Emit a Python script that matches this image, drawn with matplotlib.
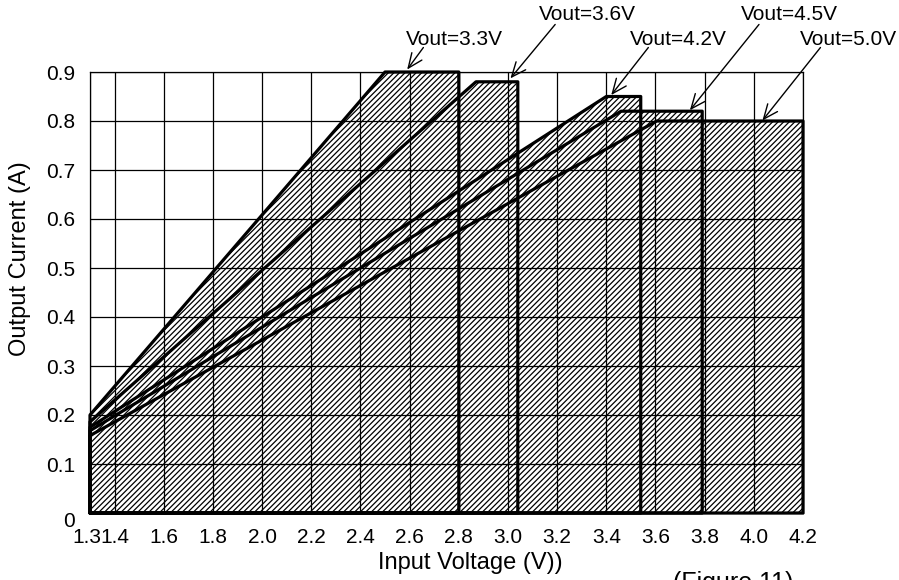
import numpy as np
import matplotlib
matplotlib.use('Agg')
import matplotlib.pyplot as plt
from matplotlib.patches import Polygon

plt.rcParams['font.family'] = ['Liberation Sans', 'DejaVu Sans']
plt.rcParams['hatch.linewidth'] = 0.9

# safe operating area per output voltage
vout_labels = ['Vout=3.3V', 'Vout=3.6V', 'Vout=4.2V', 'Vout=4.5V', 'Vout=5.0V']
vin_min = 1.3
i_at_vin_min = [0.200, 0.186, 0.175, 0.168, 0.158]
vin_knee = [2.50, 2.87, 3.40, 3.46, 3.605]
i_max = [0.90, 0.88, 0.85, 0.82, 0.80]
vin_max = [2.80, 3.04, 3.54, 3.79, 4.20]

# arrow tips on the curves
tip_vin = [2.59, 3.01, 3.42, 3.74, 4.035]
tip_i = [0.905, 0.887, 0.853, 0.822, 0.801]

xticks = [1.3, 1.4, 1.6, 1.8, 2.0, 2.2, 2.4, 2.6, 2.8, 3.0, 3.2, 3.4, 3.6, 3.8, 4.0, 4.2]
xticklabels = ['', '1.4', '1.6', '1.8', '2.0', '2.2', '2.4', '2.6', '2.8', '3.0',
               '3.2', '3.4', '3.6', '3.8', '4.0', '4.2']
yticks = [0, 0.1, 0.2, 0.3, 0.4, 0.5, 0.6, 0.7, 0.8, 0.9]
yticklabels = ['', '0.1', '0.2', '0.3', '0.4', '0.5', '0.6', '0.7', '0.8', '0.9']

fig = plt.figure(figsize=(8.99, 5.80), dpi=100)
ax = fig.add_axes([90/899, 1-513/580, (803-90)/899, (513-72)/580])

for k in range(len(vout_labels)):
    xs = [vin_min, vin_min, vin_knee[k], vin_max[k], vin_max[k]]
    ys = [0, i_at_vin_min[k], i_max[k], i_max[k], 0]
    poly = Polygon(np.column_stack([xs, ys]), closed=True, facecolor='white',
                   edgecolor='black', hatch='//////', linewidth=0, zorder=1)
    ax.add_patch(poly)

for k in range(len(vout_labels)):
    xs = [vin_min, vin_min, vin_knee[k], vin_max[k], vin_max[k], vin_min]
    ys = [0, i_at_vin_min[k], i_max[k], i_max[k], 0, 0]
    ax.plot(xs, ys, color='black', lw=2.3, solid_joinstyle='round',
            solid_capstyle='round', zorder=4, clip_on=False)

ax.set_xlim(1.3, 4.2)
ax.set_ylim(0, 0.9)
ax.set_xticks(xticks)
ax.set_xticklabels(xticklabels)
ax.set_yticks(yticks)
ax.set_yticklabels(yticklabels)
ax.tick_params(axis='both', length=0, labelsize=15)
ax.tick_params(axis='x', pad=11)
ax.tick_params(axis='y', pad=10.5)
ax.grid(True, color='black', lw=0.9)
ax.set_axisbelow(False)
for s in ax.spines.values():
    s.set_linewidth(0.9)
    s.set_zorder(3)

# corner labels placed by hand, as in the original
ax.annotate('0', xy=(1.3, 0), xytext=(-11, -6), textcoords='offset points',
            ha='right', va='center', fontsize=15, annotation_clip=False)
ax.annotate('1.3', xy=(1.3, 0), xytext=(-2.5, -11), textcoords='offset points',
            ha='center', va='top', fontsize=15, annotation_clip=False)

# labels and arrows
label_pos = [(2.784, 0.967), (3.325, 1.018), (3.695, 0.967), (4.143, 1.018), (4.383, 0.967)]
tail_pos = [(2.656, 0.950), (3.192, 0.997), (3.571, 0.950), (4.021, 0.997), (4.271, 0.950)]
for k in range(len(vout_labels)):
    ax.text(label_pos[k][0], label_pos[k][1], vout_labels[k], fontsize=15,
            ha='center', va='center', clip_on=False)
    ax.annotate('', xy=(tip_vin[k], tip_i[k]), xytext=tail_pos[k],
                arrowprops=dict(arrowstyle='->,head_length=0.75,head_width=0.32',
                                color='black', lw=1.0, shrinkA=0, shrinkB=0,
                                mutation_scale=14),
                annotation_clip=False, zorder=5)

fig.text(470/899, 1-563/580, 'Input Voltage (V))', fontsize=17, ha='center', va='center')
fig.text(20/899, 1-259/580, 'Output Current (A)', fontsize=17, ha='center', va='center',
         rotation=90)
fig.text(673/899, 1-571/580, '(Figure 11)', fontsize=18, ha='left', va='top')

fig.savefig('out.png', dpi=100)
